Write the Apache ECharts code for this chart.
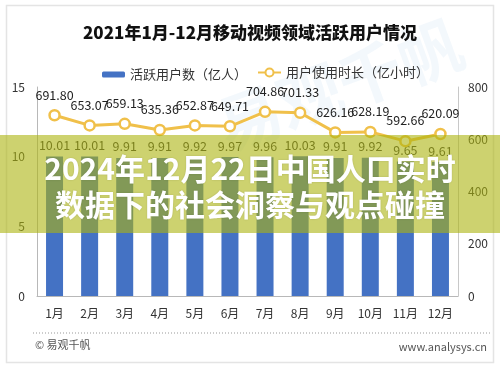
<!DOCTYPE html>
<html><head><meta charset="utf-8">
<script src="https://cdn.jsdelivr.net/npm/echarts@6/dist/echarts.min.js"></script>
<style>html,body{margin:0;padding:0;background:#fff}#c{width:500px;height:369px}</style>
</head><body><div id="c"></div>
<script>
const months = ['1月','2月','3月','4月','5月','6月','7月','8月','9月','10月','11月','12月'];
const activeUsers = [10.01,10.01,9.91,9.91,9.92,9.97,9.96,10.03,9.91,9.92,9.65,9.61];
const usageHours = [691.80,653.07,659.13,635.36,652.87,649.71,704.86,701.33,626.16,628.19,592.66,620.09];
const leftTicks = {min:0,max:15,interval:5};
const rightTicks = {min:0,max:800,interval:200};
const titleText = '2021年1月-12月移动视频领域活跃用户情况';
const barName = '活跃用户数（亿人）';
const lineName = '用户使用时长（亿小时）';
const overlayLines = ['2024年12月22日中国人口实时','数据下的社会洞察与观点碰撞'];
const footerLeft = '© 易观千帆';
const footerRight = 'www.analysys.cn';

const font = '"Noto Sans CJK SC","Microsoft YaHei",sans-serif';
const chart = echarts.init(document.getElementById('c'), null, {renderer:'canvas'});
chart.setOption({
  animation:false,
  backgroundColor:'#fff',
  textStyle:{fontFamily:font},
  title:{text:titleText,left:'center',top:19,textStyle:{fontSize:17,fontWeight:900,color:'#111',fontFamily:font}},
  legend:[
    {data:[barName],left:97,top:63,itemWidth:23,itemHeight:6,itemGap:4,
     textStyle:{fontSize:13,color:'#333',fontFamily:font}},
    {data:[lineName],left:252,top:61,itemWidth:23,itemHeight:10,
     textStyle:{fontSize:13,color:'#333',fontFamily:font}}
  ],
  grid:{left:37,right:42,top:87,bottom:73},
  xAxis:{type:'category',data:months,
    axisLine:{lineStyle:{color:'#b8b8b8',width:1}},axisTick:{show:false},
    axisLabel:{fontSize:12,color:'#333',margin:11,fontFamily:font}},
  yAxis:[
    {type:'value',min:leftTicks.min,max:leftTicks.max,interval:leftTicks.interval,
     axisLine:{show:true,lineStyle:{color:'#b8b8b8'}},axisTick:{show:false},splitLine:{show:false},
     axisLabel:{fontSize:12,color:'#333',margin:12}},
    {type:'value',min:rightTicks.min,max:rightTicks.max,interval:rightTicks.interval,
     axisLine:{show:true,lineStyle:{color:'#c8c8c8'}},axisTick:{show:false},splitLine:{show:false},
     axisLabel:{fontSize:12,color:'#333',margin:10}}
  ],
  series:[
    {name:barName,type:'bar',data:activeUsers,barWidth:17,yAxisIndex:0,
     itemStyle:{color:'#4472c4'},
     label:{show:true,position:'top',distance:5,fontSize:12.5,color:'#333',
       formatter:p=>p.value.toFixed(2)}},
    {name:lineName,type:'line',data:usageHours,yAxisIndex:1,
     symbol:'circle',symbolSize:10,
     lineStyle:{color:'#f0c04a',width:3},
     itemStyle:{color:'#fff',borderColor:'#f0c04a',borderWidth:2.5},
     label:{show:true,position:'top',distance:8,fontSize:12.5,color:'#222',
       formatter:p=>p.value.toFixed(2)}}
  ],
  graphic:[
    {type:'rect',shape:{x:6.5,y:5.5,width:487,height:357},style:{fill:'none',stroke:'#e4e4e4',lineWidth:1.5},z:-1,silent:true},
    {type:'text',x:340,y:85,rotation:0.35,style:{text:'易观千帆',fontSize:64,fontWeight:'bold',fill:'rgba(150,195,230,0.11)',align:'center',verticalAlign:'middle',fontFamily:font},z:-1,silent:true},
    {type:'line',shape:{x1:33,y1:333,x2:491,y2:333},style:{stroke:'#999',lineWidth:1,lineDash:[1,2]},silent:true},
    {type:'text',x:35,y:345,style:{text:footerLeft,fontSize:11,fill:'#555',verticalAlign:'middle',fontFamily:font},silent:true},
    {type:'text',x:487,y:347,style:{text:footerRight,fontSize:11,fill:'#555',align:'right',verticalAlign:'middle',fontFamily:font},silent:true},
    {type:'rect',shape:{x:0,y:135,width:500,height:98},style:{fill:'rgba(172,180,15,0.6)'},z:100,silent:true},
    {type:'text',x:250,y:169,style:{text:overlayLines[0],fontSize:30,fontWeight:'bold',fill:'#fff',align:'center',verticalAlign:'middle',fontFamily:font,textShadowColor:'rgba(0,0,0,0.15)',textShadowBlur:2},z:101,silent:true},
    {type:'text',x:250,y:205,style:{text:overlayLines[1],fontSize:30,fontWeight:'bold',fill:'#fff',align:'center',verticalAlign:'middle',fontFamily:font,textShadowColor:'rgba(0,0,0,0.15)',textShadowBlur:2},z:101,silent:true}
  ]
});
</script></body></html>
